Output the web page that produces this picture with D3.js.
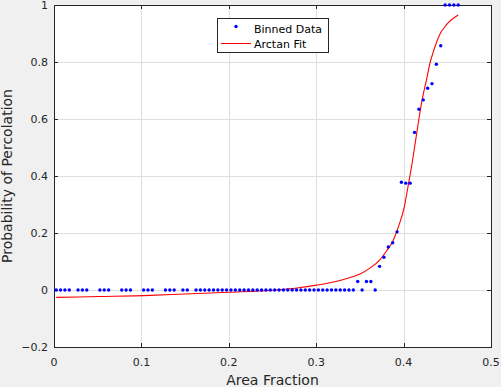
<!DOCTYPE html>
<html>
<head>
<meta charset="utf-8">
<script src="https://cdn.jsdelivr.net/npm/d3@7"></script>
<style>
  html, body { margin: 0; padding: 0; background: #f0f0f0; }
  svg { display: block; font-family: "DejaVu Sans", sans-serif; }
</style>
</head>
<body>
<div id="vis"></div>
<script>
// binned data (area fraction bin centre, probability of percolation)
const binX = [
  0.0025, 0.0075, 0.0125, 0.0175,
  0.0275, 0.0325, 0.0375,
  0.0525, 0.0575, 0.0625,
  0.0775, 0.0825, 0.0875,
  0.1025, 0.1075, 0.1125,
  0.1275, 0.1325, 0.1375,
  0.1475, 0.1525,
  0.1625, 0.1675, 0.1725, 0.1775, 0.1825, 0.1875, 0.1925, 0.1975,
  0.2025, 0.2075, 0.2125, 0.2175, 0.2225, 0.2275, 0.2325, 0.2375,
  0.2425, 0.2475, 0.2525, 0.2575, 0.2625, 0.2675, 0.2725, 0.2775,
  0.2825, 0.2875, 0.2925, 0.2975, 0.3025, 0.3075, 0.3125, 0.3175,
  0.3225, 0.3275, 0.3325, 0.3375, 0.3425,
  0.3475, 0.3525, 0.3575, 0.3625, 0.3675, 0.3725, 0.3775, 0.3825,
  0.3875, 0.3925, 0.3975, 0.4025, 0.4075, 0.4125, 0.4175, 0.4225,
  0.4275, 0.4325, 0.4375, 0.4425, 0.4475, 0.4525, 0.4575, 0.4625
];
const binY = [
  0, 0, 0, 0,
  0, 0, 0,
  0, 0, 0,
  0, 0, 0,
  0, 0, 0,
  0, 0, 0,
  0, 0,
  0, 0, 0, 0, 0, 0, 0, 0,
  0, 0, 0, 0, 0, 0, 0, 0,
  0, 0, 0, 0, 0, 0, 0, 0,
  0, 0, 0, 0, 0, 0, 0, 0,
  0, 0, 0, 0, 0,
  0.030, 0, 0.030, 0.030, 0, 0.083, 0.115, 0.151,
  0.166, 0.204, 0.378, 0.375, 0.375, 0.553, 0.634, 0.667,
  0.708, 0.724, 0.792, 0.857, 1, 1, 1, 1
];

// arctan fit curve
const fitX = [0.0025, 0.05, 0.11, 0.15, 0.2, 0.25, 0.28, 0.3, 0.32, 0.338,
  0.35, 0.361, 0.3726, 0.38, 0.3878, 0.3924, 0.3954, 0.4003, 0.4057, 0.41,
  0.4135, 0.4175, 0.4217, 0.426, 0.4305, 0.4334, 0.4373, 0.4411, 0.4488, 0.4625];
const fitY = [-0.026, -0.023, -0.019, -0.014, -0.008, -0.001, 0.008, 0.017, 0.028, 0.043,
  0.056, 0.076, 0.105, 0.135, 0.172, 0.207, 0.234, 0.285, 0.374, 0.45,
  0.52, 0.6, 0.675, 0.735, 0.8, 0.83, 0.866, 0.895, 0.93, 0.965];

const xTicks = [0, 0.1, 0.2, 0.3, 0.4, 0.5];
const yTicks = [-0.2, 0, 0.2, 0.4, 0.6, 0.8, 1];

const W = 501, H = 387;
const pl = 54, pr = 491, pt = 5, pb = 347;
const ink = "#262626";

const svg = d3.select("#vis").append("svg")
  .attr("width", W)
  .attr("height", H);

const x = d3.scaleLinear().domain([0, 0.5]).range([pl, pr]);
const y = d3.scaleLinear().domain([-0.2, 1]).range([pb, pt]);

// axes background
svg.append("rect")
  .attr("x", pl).attr("y", pt)
  .attr("width", pr - pl).attr("height", pb - pt)
  .attr("fill", "#fff");

// grid
const grid = svg.append("g").attr("stroke", "#dedede").attr("stroke-width", 1);
grid.selectAll(".gx").data(xTicks.slice(1, -1)).join("line")
  .attr("x1", d => Math.round(x(d)) + 0.5).attr("x2", d => Math.round(x(d)) + 0.5)
  .attr("y1", pt).attr("y2", pb);
grid.selectAll(".gy").data(yTicks.slice(1, -1)).join("line")
  .attr("y1", d => Math.round(y(d)) + 0.5).attr("y2", d => Math.round(y(d)) + 0.5)
  .attr("x1", pl).attr("x2", pr);

// fit line
const pts = fitX.map((v, i) => [v, fitY[i]]);
svg.append("path")
  .datum(pts)
  .attr("fill", "none")
  .attr("stroke", "#ff0000")
  .attr("stroke-width", 1.1)
  .attr("d", d3.line().x(d => x(d[0])).y(d => y(d[1])).curve(d3.curveMonotoneX));

// axes box + ticks (inward, all four sides)
const ax = svg.append("g").attr("stroke", ink).attr("stroke-width", 1).attr("fill", "none");
ax.append("rect")
  .attr("x", pl + 0.5).attr("y", pt + 0.5)
  .attr("width", pr - pl).attr("height", pb - pt);
const tl = 4;
xTicks.forEach(t => {
  const px = Math.round(x(t)) + 0.5;
  ax.append("line").attr("x1", px).attr("x2", px).attr("y1", pb).attr("y2", pb - tl);
  ax.append("line").attr("x1", px).attr("x2", px).attr("y1", pt).attr("y2", pt + tl);
});
yTicks.forEach(t => {
  const py = Math.round(y(t)) + 0.5;
  ax.append("line").attr("y1", py).attr("y2", py).attr("x1", pl).attr("x2", pl + tl);
  ax.append("line").attr("y1", py).attr("y2", py).attr("x1", pr).attr("x2", pr - tl);
});

// binned data markers
svg.append("g").attr("fill", "#0000ff")
  .selectAll("circle").data(binX).join("circle")
  .attr("cx", d => x(d))
  .attr("cy", (d, i) => y(binY[i]))
  .attr("r", 1.7);

// tick labels
const fmt = v => (v < 0 ? "\u2212" : "") + String(Math.abs(v));
svg.append("g").attr("fill", ink).attr("font-size", 11).attr("text-anchor", "middle")
  .selectAll("text").data(xTicks).join("text")
  .attr("x", d => x(d)).attr("y", 366)
  .text(fmt);
svg.append("g").attr("fill", ink).attr("font-size", 11).attr("text-anchor", "end")
  .selectAll("text").data(yTicks).join("text")
  .attr("x", 48).attr("y", d => y(d) + 4)
  .text(fmt);

// axis labels
svg.append("text")
  .attr("x", (pl + pr) / 2).attr("y", 385)
  .attr("text-anchor", "middle").attr("font-size", 14).attr("fill", ink)
  .text("Area Fraction");
svg.append("text")
  .attr("transform", `translate(12,${(pt + pb) / 2}) rotate(-90)`)
  .attr("text-anchor", "middle").attr("font-size", 14).attr("fill", ink)
  .text("Probability of Percolation");

// legend
const lg = svg.append("g");
lg.append("rect")
  .attr("x", 217.5).attr("y", 18.5).attr("width", 111).attr("height", 34)
  .attr("fill", "#fff").attr("stroke", ink);
lg.append("circle").attr("cx", 236).attr("cy", 26.5).attr("r", 1.7).attr("fill", "#0000ff");
lg.append("text").attr("x", 254).attr("y", 33).attr("font-size", 11).attr("fill", "#000")
  .text("Binned Data");
lg.append("line").attr("x1", 221).attr("x2", 251).attr("y1", 43.5).attr("y2", 43.5)
  .attr("stroke", "#ff0000");
lg.append("text").attr("x", 254).attr("y", 47.5).attr("font-size", 11).attr("fill", "#000")
  .text("Arctan Fit");
</script>
</body>
</html>
